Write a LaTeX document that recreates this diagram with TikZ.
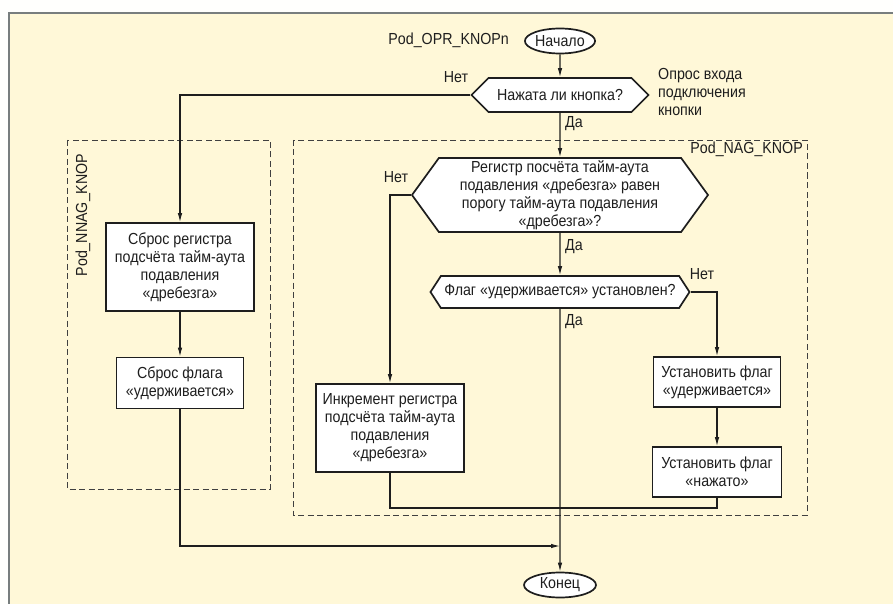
\documentclass[tikz,border=0pt]{standalone}
\usepackage{fontspec}
\setmainfont{Liberation Sans}[FakeStretch=0.89]
\usetikzlibrary{shapes.geometric,shapes.symbols,arrows.meta}
\definecolor{paper}{RGB}{255,248,216}
\definecolor{ink}{RGB}{30,30,30}
\definecolor{rama}{RGB}{120,126,126}

\begin{document}
\begin{tikzpicture}[x=1pt,y=-1pt,font=\fontsize{16}{18}\selectfont,
	txt/.style={text=ink,inner sep=0pt},
	blok/.style={draw=ink,line width=1.7pt,fill=white,text=ink,align=center,inner sep=0pt},
	uslovie/.style={blok,signal,signal to=east and west},
	term/.style={blok,ellipse},
	flow/.style={draw=ink,line width=1.1pt,-{Latex[length=9pt,width=4.5pt]}},
	svyaz/.style={draw=ink,line width=1.1pt},
	grp/.style={draw=ink!85,line width=0.9pt,dash pattern=on 6pt off 3.5pt}]
	\useasboundingbox (0,0) rectangle (893,604);
	\fill[white!96!paper] (0,0) rectangle (893,604);
	\fill[paper] (9,13) rectangle (893,604);
	\draw[rama,line width=2pt] (9,604) -- (9,13) -- (893,13);

	% dashed groups
	\draw[grp] (67,140) rectangle (270,489);
	\draw[grp] (293,140) rectangle (807,515);
	\node[txt,rotate=90] (nnag) at (83,215) {Pod\_NNAG\_KNOP};
	\node[txt,anchor=east] (nag) at (803,149) {Pod\_NAG\_KNOP};

	\node[term,minimum width=68,minimum height=25] (start) at (560,41) {Начало};
	\node[txt,anchor=east] (podopr) at (509,40) {Pod\_OPR\_KNOPn};
	\node[uslovie,minimum width=177,minimum height=34] (q1) at (560,95) {Нажата ли кнопка?};
	\node[txt,align=left,anchor=west] (opros) at (658,92) {Опрос входа\\подключения\\кнопки};
	\node[uslovie,minimum width=296,minimum height=74,signal pointer angle=108] (q2) at (560,195)
		{Регистр посчёта тайм-аута\\подавления «дребезга» равен\\порогу тайм-аута подавления\\«дребезга»?};
	\node[uslovie,minimum width=259,minimum height=32,signal pointer angle=114] (q3) at (560,292)
		{Флаг «удерживается» установлен?};
	\node[blok,minimum width=148,minimum height=88] (rst1) at (180,267)
		{Сброс регистра\\подсчёта тайм-аута\\подавления\\«дребезга»};
	\node[blok,minimum width=127,minimum height=51] (rst2) at (180,383) {Сброс флага\\«удерживается»};
	\node[blok,minimum width=148,minimum height=88] (inc) at (390,428)
		{Инкремент регистра\\подсчёта тайм-аута\\подавления\\«дребезга»};
	\node[blok,minimum width=127,minimum height=50] (set1) at (717,382) {Установить флаг\\«удерживается»};
	\node[blok,minimum width=129,minimum height=50] (set2) at (717,472) {Установить флаг\\«нажато»};
	\node[term,minimum width=72,minimum height=25] (end) at (560,585) {Конец};
	\coordinate (jn) at (560,546);
	\coordinate (mrg) at (560,508);

	% connectors
	\draw[flow] (start) -- (q1);
	\draw[flow] (q1) -- (q2);
	\draw[flow] (q2) -- (q3);
	\draw[flow] (q3) -- (end);
	\draw[flow] (q1.west) -| (rst1.north);
	\draw[flow] (rst1) -- (rst2);
	\draw[flow] (rst2.south) |- (jn);
	\draw[flow] (q2.west) -| (inc.north);
	\draw[flow] (q3.east) -| (set1.north);
	\draw[flow] (set1) -- (set2);
	\draw[svyaz] (inc.south) |- (mrg) -| (set2.south);

	\node[txt] (net1) at (456,77) {Нет};
	\node[txt,anchor=west] (da1) at (565,124) {Да};
	\node[txt] (net2) at (396,177) {Нет};
	\node[txt,anchor=west] (da2) at (565,247) {Да};
	\node[txt] (net3) at (702,274) {Нет};
	\node[txt,anchor=west] (da3) at (565,322) {Да};
\end{tikzpicture}
\end{document}
